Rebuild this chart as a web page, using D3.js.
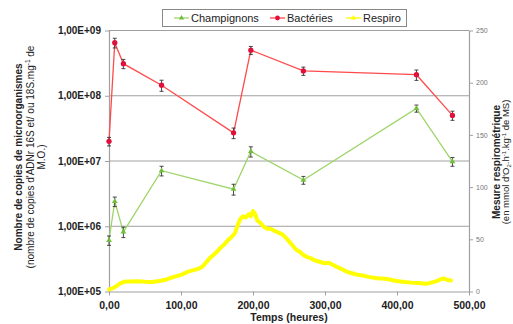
<!DOCTYPE html>
<html>
<head>
<meta charset="utf-8">
<script src="https://cdn.jsdelivr.net/npm/d3@7"></script>
<style>
  body { margin: 0; background: #fff; }
  text { font-family: "Liberation Sans", Arial, sans-serif; }
</style>
</head>
<body>
<div class="container"></div>
<script>
// sampling times (hours)
var times = [0, 8, 20, 73, 173, 197, 270, 427, 477];

// copies per mg
var bacteries = [2.0e7, 6.5e8, 3.1e8, 1.45e8, 2.7e7, 5.0e8, 2.4e8, 2.1e8, 5.0e7];
var bacteriesErr = [3e6, 1.1e8, 5e7, 2.8e7, 5e6, 7e7, 3.5e7, 3.8e7, 8e6];

var champignons = [6.1e5, 2.4e6, 8.2e5, 7.1e6, 3.7e6, 1.4e7, 5.1e6, 6.4e7, 9.8e6];
var champignonsErr = [1e5, 4e5, 1.5e5, 1.2e6, 7e5, 2.5e6, 7e5, 8e6, 1.5e6];

// respirometry
var respiroT = [0, 5, 10, 15, 20, 25, 30, 40, 50, 60, 70, 80, 90, 100, 110, 120, 125, 130, 135, 140,
  145, 150, 155, 160, 165, 170, 175, 178, 182, 186, 190, 194, 197, 200, 203, 206, 210, 215, 220, 225,
  230, 240, 245, 250, 255, 260, 265, 270, 275, 280, 285, 290, 295, 300, 305, 310, 315, 320, 325, 330,
  335, 340, 345, 350, 355, 360, 370, 375, 380, 385, 390, 395, 400, 405, 410, 420, 430, 440, 445, 450,
  455, 460, 465, 470, 475];
var respiroV = [2, 3, 5, 7.5, 9, 9.5, 9.6, 9.8, 9.3, 9, 10, 11.5, 14, 16, 19, 21, 22, 24, 28, 32,
  35, 38, 42, 45, 49, 52, 56, 62, 69, 72, 71, 74, 72, 77, 74, 68, 66, 62, 60, 60,
  58, 55, 52, 48, 44, 40, 38, 35, 33, 32, 30, 29, 28, 27, 27.5, 26, 24, 22.5, 21, 19,
  18, 17, 16, 15.5, 15, 14, 13, 12.5, 12.5, 12, 11.5, 10.5, 10, 9.5, 9, 8.5, 8.2, 7.5, 8, 9,
  10, 11.5, 12.5, 11, 10.5];

var leftTicks = [1e5, 1e6, 1e7, 1e8, 1e9];
var rightTicks = [0, 50, 100, 150, 200, 250];
var xTicks = [0, 100, 200, 300, 400, 500];
var legendNames = ["Champignons", "Bactéries", "Respiro"];

var width = 513, height = 324;
var gridColor = "#a0a0a0";

var svg = d3.select('.container')
    .append('svg').attr('width', width).attr('height', height)
    .style('background', '#fff');

var x = d3.scaleLinear().domain([0, 500]).range([109, 469]);
var y = d3.scaleLog().domain([1e5, 1e9]).range([291.5, 30.5]);
var y2 = d3.scaleLinear().domain([0, 250]).range([291.5, 30.5]);

// gridlines
svg.selectAll('line.grid').data(leftTicks.slice(1)).enter().append('line')
  .attr('class', 'grid')
  .attr('x1', x(0)).attr('x2', x(500))
  .attr('y1', function(d) { return y(d); }).attr('y2', function(d) { return y(d); })
  .style('stroke', gridColor).style('stroke-width', 1);

var styleAxis = function(g) {
  g.select('.domain').style('stroke', gridColor).style('stroke-width', 1.2);
  g.selectAll('.tick line').style('stroke', gridColor);
};

// left axis
var gl = svg.append('g').attr('transform', 'translate(' + x(0) + ',0)')
  .call(d3.axisLeft(y).tickValues(leftTicks).tickSize(4).tickSizeOuter(0)
    .tickFormat(function(d) { return "1,00E+0" + Math.round(Math.log10(d)); }));
styleAxis(gl);
gl.selectAll('.tick text').attr('x', -8).style('font-size', '10px').style('font-weight', 'bold').style('fill', '#222');

// bottom axis
var gb = svg.append('g').attr('transform', 'translate(0,' + y(1e5) + ')')
  .call(d3.axisBottom(x).tickValues(xTicks).tickSize(4).tickSizeOuter(0)
    .tickFormat(function(d) { return d3.format('.2f')(d).replace('.', ','); }));
styleAxis(gb);
gb.selectAll('.tick text').attr('y', 10).style('font-size', '10.5px').style('font-weight', 'bold').style('fill', '#222');

// right axis
var gr = svg.append('g').attr('transform', 'translate(' + x(500) + ',0)')
  .call(d3.axisRight(y2).tickValues(rightTicks).tickSize(4).tickSizeOuter(0));
styleAxis(gr);
gr.selectAll('.tick text').attr('x', 7).style('font-size', '7px').style('fill', '#777');

// axis titles
svg.append('text').attr('x', 289).attr('y', 321).attr('text-anchor', 'middle')
  .style('font-size', '10.5px').style('font-weight', 'bold').style('fill', '#222')
  .text('Temps (heures)');

var leftTitle = svg.append('g').attr('transform', 'translate(0,157) rotate(-90)');
leftTitle.append('text').attr('x', 0).attr('y', 22).attr('text-anchor', 'middle')
  .style('font-size', '10px').style('font-weight', 'bold').style('fill', '#222')
  .text('Nombre de copies de microorganismes');
var lt2 = leftTitle.append('text').attr('x', 0).attr('y', 34).attr('text-anchor', 'middle')
  .style('font-size', '10px').style('fill', '#222');
lt2.append('tspan').text("(nombre de copies d'ADNr 16S et/ ou 18S.mg");
lt2.append('tspan').attr('dy', -4).style('font-size', '6.5px').text('-1');
lt2.append('tspan').attr('dy', 4).text(' de');
leftTitle.append('text').attr('x', 0).attr('y', 45).attr('text-anchor', 'middle')
  .style('font-size', '10px').style('fill', '#222')
  .text('M.O.)');

var rightTitle = svg.append('g').attr('transform', 'translate(0,162) rotate(-90)');
rightTitle.append('text').attr('x', 0).attr('y', 500).attr('text-anchor', 'middle')
  .style('font-size', '10px').style('font-weight', 'bold').style('fill', '#222')
  .text('Mesure respirométrique');
var rt2 = rightTitle.append('text').attr('x', 0).attr('y', 509).attr('text-anchor', 'middle')
  .style('font-size', '9.5px').style('fill', '#222');
rt2.append('tspan').text("(en mmol d'O");
rt2.append('tspan').attr('dy', 2).style('font-size', '6px').text('2');
rt2.append('tspan').attr('dy', -2).text('.h');
rt2.append('tspan').attr('dy', -3).style('font-size', '6px').text('-1');
rt2.append('tspan').attr('dy', 3).text('.kg');
rt2.append('tspan').attr('dy', -3).style('font-size', '6px').text('-1');
rt2.append('tspan').attr('dy', 3).text(' de MS)');

// respiro curve
var respiro = respiroT.map(function(t, i) { return {t: t, v: respiroV[i]}; });
svg.append('path').datum(respiro)
  .attr('d', d3.line().x(function(d) { return x(d.t); }).y(function(d) { return y2(d.v); }))
  .style('fill', 'none').style('stroke', '#ffff00').style('stroke-width', 4)
  .style('stroke-linejoin', 'round').style('stroke-linecap', 'round');

var drawSeries = function(vals, errs, lineColor, markColor, shape) {
  var data = times.map(function(t, i) { return {t: t, v: vals[i], e: errs[i]}; });
  svg.append('path').datum(data)
    .attr('d', d3.line().x(function(d) { return x(d.t); }).y(function(d) { return y(d.v); }))
    .style('fill', 'none').style('stroke', lineColor).style('stroke-width', 1.3);

  var eb = svg.selectAll(null).data(data).enter().append('g');
  eb.append('line')
    .attr('x1', function(d) { return x(d.t); }).attr('x2', function(d) { return x(d.t); })
    .attr('y1', function(d) { return y(d.v - d.e); }).attr('y2', function(d) { return y(d.v + d.e); });
  eb.append('line')
    .attr('x1', function(d) { return x(d.t) - 2; }).attr('x2', function(d) { return x(d.t) + 2; })
    .attr('y1', function(d) { return y(d.v + d.e); }).attr('y2', function(d) { return y(d.v + d.e); });
  eb.append('line')
    .attr('x1', function(d) { return x(d.t) - 2; }).attr('x2', function(d) { return x(d.t) + 2; })
    .attr('y1', function(d) { return y(d.v - d.e); }).attr('y2', function(d) { return y(d.v - d.e); });
  eb.selectAll('line').style('stroke', '#333').style('stroke-width', 0.9);

  svg.selectAll(null).data(data).enter().append('path')
    .attr('transform', function(d) { return 'translate(' + x(d.t) + ',' + y(d.v) + ')'; })
    .attr('d', d3.symbol().type(shape).size(shape === d3.symbolTriangle ? 14 : 22))
    .style('fill', markColor);
};

drawSeries(champignons, champignonsErr, '#9fd46a', '#6fbf3a', d3.symbolTriangle);
drawSeries(bacteries, bacteriesErr, '#ff4a4a', '#e0103a', d3.symbolCircle);

// legend
svg.append('rect').attr('x', 162.5).attr('y', 9.5).attr('width', 244).attr('height', 17)
  .style('fill', '#fff').style('stroke', '#888');
var legColors = ['#9fd46a', '#ff4a4a', '#ffff00'];
var legMarks = ['#6fbf3a', '#e0103a', '#ffff00'];
var legLineX = [174, 270, 346];
var leg = svg.selectAll('g.leg').data(legendNames).enter().append('g').attr('class', 'leg');
leg.append('line')
  .attr('x1', function(d, i) { return legLineX[i]; }).attr('x2', function(d, i) { return legLineX[i] + 15; })
  .attr('y1', 18).attr('y2', 18)
  .style('stroke', function(d, i) { return legColors[i]; }).style('stroke-width', 1.3);
leg.append('path')
  .attr('transform', function(d, i) { return 'translate(' + (legLineX[i] + 7.5) + ',18)'; })
  .attr('d', function(d, i) { return d3.symbol().type(i === 1 ? d3.symbolCircle : d3.symbolTriangle).size(i === 1 ? 18 : 12)(); })
  .style('fill', function(d, i) { return legMarks[i]; });
leg.append('text')
  .attr('x', function(d, i) { return legLineX[i] + 17; }).attr('y', 22)
  .style('font-size', '11px').style('fill', '#222')
  .text(function(d) { return d; });
</script>
</body>
</html>
